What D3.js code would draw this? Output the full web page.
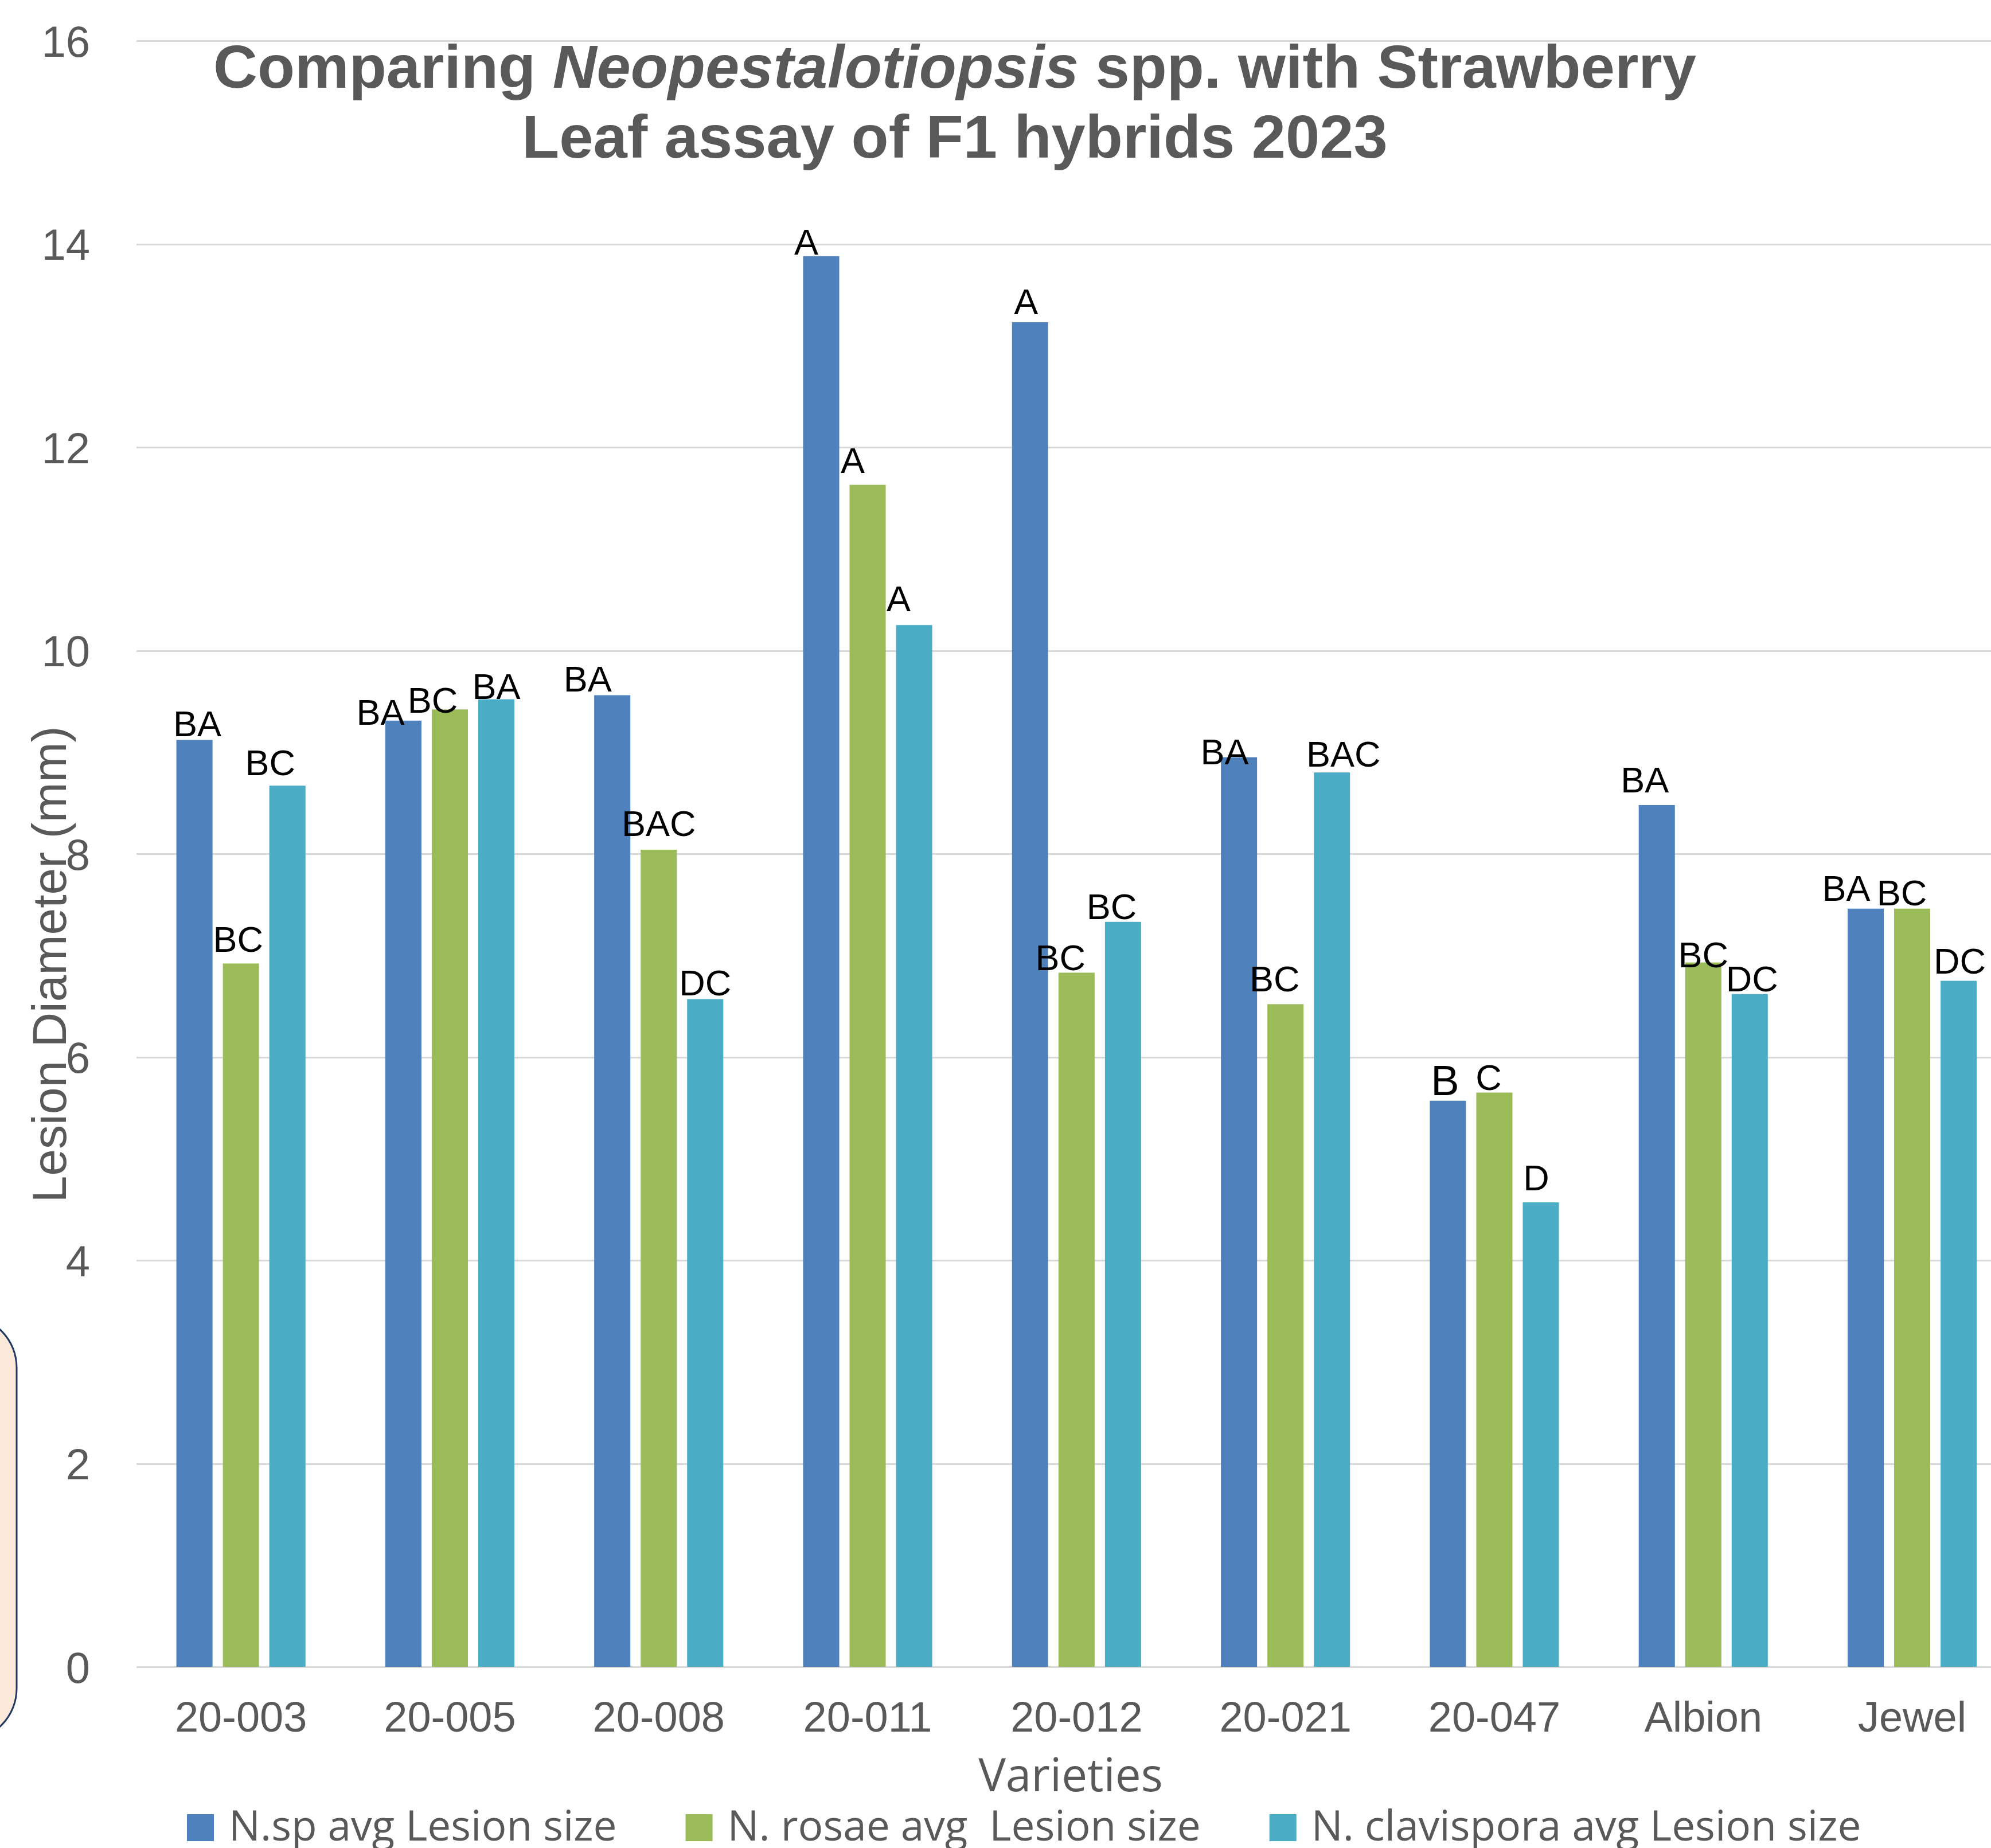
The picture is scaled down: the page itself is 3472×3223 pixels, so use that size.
<!DOCTYPE html>
<meta charset="utf-8">
<style>
    body { margin: 0; background: #fff; }
    svg { display: block; }
    .grid path, .axis--x path { display: none; }
    .grid line { stroke: #d9d9d9; stroke-width: 3; shape-rendering: crispEdges; }
    .grid text, .axis--x text {
        fill: #595959;
        font-family: "Liberation Sans", Arial, sans-serif;
    }
    .title { fill: #595959; font-family: "Liberation Sans", Arial, sans-serif; font-weight: 700; }
    .ytitle { fill: #595959; font-family: "Liberation Sans", Arial, sans-serif; }
    .xtitle, .legend text { fill: #595959; font-family: "Open Sans", "Noto Sans", sans-serif; white-space: pre; }
    .letter { fill: #000; font-family: "Liberation Sans", Arial, sans-serif; }
</style>
<svg width="3472" height="3223"></svg>
<script src="https://cdn.jsdelivr.net/npm/d3@7/dist/d3.min.js"></script>
<script>

    // data
    var varieties = ["20-003", "20-005", "20-008", "20-011", "20-012", "20-021", "20-047", "Albion", "Jewel"];
    var seriesNames = ["N.sp avg Lesion size", "N. rosae avg  Lesion size", "N. clavispora avg Lesion size"];
    var nspValues   = [9.12, 9.31, 9.56, 13.88, 13.23, 8.95, 5.57, 8.48, 7.46];
    var rosaeValues = [6.92, 9.42, 8.04, 11.63, 6.83, 6.52, 5.65, 6.93, 7.46];
    var clavValues  = [8.67, 9.52, 6.57, 10.25, 7.33, 8.80, 4.57, 6.62, 6.75];
    var nspLetters   = ["BA", "BA", "BA", "A", "A", "BA", "B", "BA", "BA"];
    var rosaeLetters = ["BC", "BC", "BAC", "A", "BC", "BC", "C", "BC", "BC"];
    var clavLetters  = ["BC", "BA", "DC", "A", "BC", "BAC", "D", "DC", "DC"];
    var yTicks = [0, 2, 4, 6, 8, 10, 12, 14, 16];

    var colors = ["#4f81bd", "#9bbb59", "#4bacc6"];

    // hand placed label nudges [dx, dy] as in the original
    var labelShift = [
        [[5, -6], [-40, 7], [-43, -6], [-26, -3], [-7, -14], [-25, 12], [-5, -10], [-21, -22], [-34, -14]],
        [[-5, -20], [-30, 6], [0, -24], [-26, -21], [-28, -4], [-19, -22], [-10, -5], [0, 8], [-18, -6]],
        [[-30, -18], [0, -1], [0, -6], [-27, -24], [-20, -5], [20, -10], [-8, -21], [4, -5], [2, -13]]
    ];

    var allValues = [nspValues, rosaeValues, clavValues];
    var allLetters = [nspLetters, rosaeLetters, clavLetters];

    var svg = d3.select("svg");

    var plotLeft = 238, step = 364.3,
        plotRight = plotLeft + step * varieties.length,
        plotTop = 71, plotBottom = 2907;

    var x0 = d3.scaleBand()
        .domain(varieties)
        .range([plotLeft, plotRight])
        .paddingInner(0.382)
        .paddingOuter(0.191);

    var x1 = d3.scaleBand()
        .domain(d3.range(3))
        .range([0, x0.bandwidth()])
        .paddingInner(0.222);

    var y = d3.scaleLinear()
        .domain([0, 16])
        .range([plotBottom, plotTop]);

    // left side box from the poster
    svg.append("rect")
        .attr("x", -300)
        .attr("y", 2295)
        .attr("width", 329)
        .attr("height", 740)
        .attr("rx", 90)
        .attr("fill", "#fde9d9")
        .attr("stroke", "#203864")
        .attr("stroke-width", 3);

    var gY = svg.append("g")
        .attr("class", "grid")
        .attr("transform", "translate(" + plotLeft + ",0)")
        .call(d3.axisLeft(y)
            .tickValues(yTicks)
            .tickFormat(d3.format("d"))
            .tickSize(-(3472 - plotLeft))
            .tickPadding(81));

    gY.selectAll("text")
        .attr("font-size", 76)
        .attr("dy", "0.36em");

    var gX = svg.append("g")
        .attr("class", "axis--x")
        .attr("transform", "translate(0," + plotBottom + ")")
        .call(d3.axisBottom(x0).tickSize(0).tickPadding(60));

    gX.selectAll("text").attr("font-size", 74);

    // bars
    var rows = [];
    allValues.forEach(function(vals, s) {
        vals.forEach(function(v, i) {
            rows.push({ s: s, cat: varieties[i], i: i, v: v, letter: allLetters[s][i] });
        });
    });

    svg.append("g").selectAll("rect")
        .data(rows)
        .enter().append("rect")
        .attr("x", function(d) { return x0(d.cat) + x1(d.s); })
        .attr("y", function(d) { return y(d.v); })
        .attr("width", x1.bandwidth())
        .attr("height", function(d) { return y(0) - y(d.v); })
        .attr("fill", function(d) { return colors[d.s]; });

    svg.append("g").selectAll("text")
        .data(rows)
        .enter().append("text")
        .attr("class", "letter")
        .attr("text-anchor", "middle")
        .attr("font-size", function(d) { return d.letter === "B" ? 74 : 63; })
        .attr("x", function(d) { return x0(d.cat) + x1(d.s) + x1.bandwidth() / 2 + labelShift[d.s][d.i][0]; })
        .attr("y", function(d) { return y(d.v) + labelShift[d.s][d.i][1]; })
        .text(function(d) { return d.letter; });

    // title
    var title = svg.append("text")
        .attr("class", "title")
        .attr("text-anchor", "middle")
        .attr("font-size", 106.5);
    var t1 = title.append("tspan").attr("x", 1665).attr("y", 153);
    t1.append("tspan").text("Comparing ");
    t1.append("tspan").attr("font-style", "italic").text("Neopestalotiopsis");
    t1.append("tspan").text(" spp. with Strawberry");
    title.append("tspan").attr("x", 1665).attr("y", 275).text("Leaf assay of F1 hybrids 2023");

    // axis titles
    svg.append("text")
        .attr("class", "ytitle")
        .attr("text-anchor", "middle")
        .attr("font-size", 84)
        .attr("transform", "translate(115," + 1682 + ")rotate(-90)")
        .text("Lesion Diameter (mm)");

    svg.append("text")
        .attr("class", "xtitle")
        .attr("text-anchor", "middle")
        .attr("font-size", 80)
        .attr("x", 1867)
        .attr("y", 3124)
        .text("Varieties");

    // legend
    var legend = svg.append("g").attr("class", "legend");
    var cx = 326;
    seriesNames.forEach(function(name, s) {
        legend.append("rect")
            .attr("x", cx)
            .attr("y", 3164)
            .attr("width", 47)
            .attr("height", 47)
            .attr("fill", colors[s]);
        var t = legend.append("text")
            .attr("x", cx + 73)
            .attr("y", 3210)
            .attr("font-size", 73)
            .text(name);
        cx += 73 + t.node().getComputedTextLength() + 120;
    });

</script>
